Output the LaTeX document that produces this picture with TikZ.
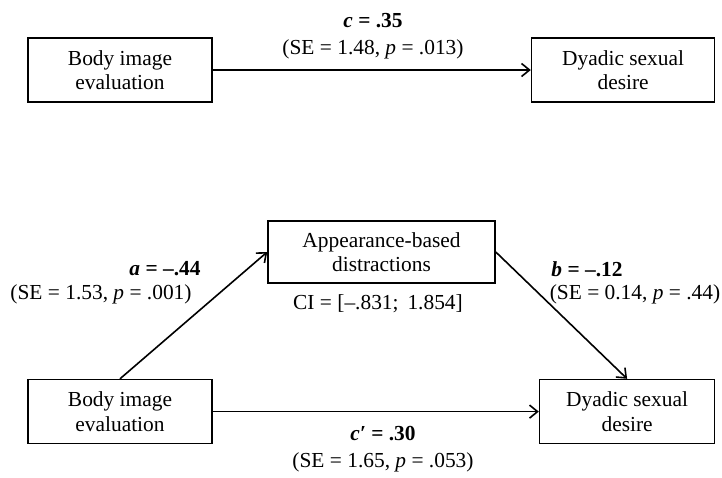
\documentclass[tikz,border=0pt]{standalone}
\usepackage{fontspec}
\setmainfont{Liberation Serif}
\usetikzlibrary{arrows.meta,positioning}

\begin{document}
\begin{tikzpicture}[x=0.5pt,y=-0.5pt,font=\fontsize{10.7}{12.2}\selectfont]
\tikzstyle{arrow}=[-{Straight Barb[length=4pt,width=6.5pt]},line width=0.8pt];
\tikzstyle{var}=[draw,line width=0.8pt,align=center,minimum height=32pt,inner sep=0pt];
\tikzstyle{coef}=[align=center,inner sep=0pt];
\useasboundingbox (0,0) rectangle (722,477);
% total effect
\node (body1) [var,minimum width=92pt] at (120,70) {Body image\\evaluation};
\node (desire1) [var,minimum width=91.5pt,right=159pt of body1] {Dyadic sexual\\desire};
\node (ctot) [coef] at (373,36) {\textbf{\textit{c} = .35}\\[1.6pt](SE = 1.48, \textit{p} = .013)};
% mediation model
\node (distr) [var,minimum width=113.5pt,minimum height=31pt] at (381.5,252) {Appearance-based\\distractions};
\node (body2) [var,minimum width=92pt,below=138pt of body1] {Body image\\evaluation};
\node (desire2) [var,minimum width=87.5pt,right=163pt of body2] {Dyadic sexual\\desire};
\node (apath) [coef] at (165,269) {\textbf{\textit{a} = –.44}};
\node (ase) [coef] at (101,294) {(SE = 1.53, \textit{p} = .001)};
\node (bpath) [coef] at (587,269) {\textbf{\textit{b} = –.12}};
\node (bse) [coef] at (635,294) {(SE = 0.14, \textit{p} = .44)};
\node (ci) [coef] at (378,304) {CI = [–.831;\, 1.854]};
\node (cdir) [coef] at (383,449) {\textbf{\textit{c′} = .30}\\[1.6pt](SE = 1.65, \textit{p} = .053)};
\draw [arrow] (body1) -- (desire1);
\draw [arrow] (body2.north) -- (distr.west);
\draw [arrow] (distr.east) -- (desire2.north);
\draw [arrow] (body2) -- (desire2);
\end{tikzpicture}
\end{document}
